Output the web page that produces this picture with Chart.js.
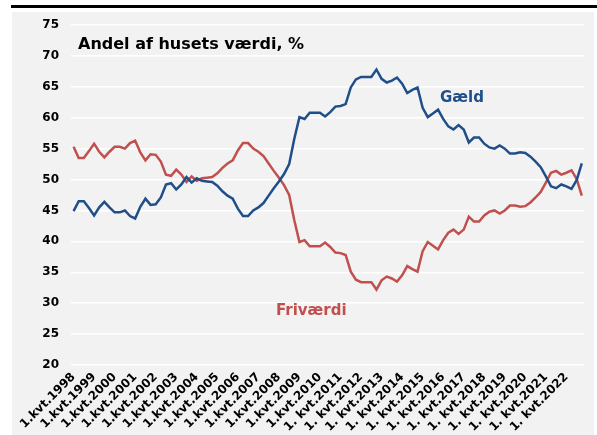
<!DOCTYPE html>
<html>
<head>
<meta charset="utf-8">
<title>Andel af husets værdi</title>
<script src="https://cdn.jsdelivr.net/npm/chart.js@4/dist/chart.umd.min.js"></script>
<style>
  html, body { margin: 0; padding: 0; background: #fff; }
  canvas { display: block; }
</style>
</head>
<body>
<canvas id="chart" width="597" height="435"></canvas>
<script>
// years on the axis (one label per 1st quarter)
const years = [1998, 1999, 2000, 2001, 2002, 2003, 2004, 2005, 2006, 2007, 2008, 2009, 2010,
  2011, 2012, 2013, 2014, 2015, 2016, 2017, 2018, 2019, 2020, 2021, 2022];
const quarters = [1, 2, 3, 4];

const tickLabels = ['1.kvt.1998', '1.kvt.1999', '1.kvt.2000', '1.kvt.2001', '1.kvt.2002',
  '1.kvt.2003', '1.kvt.2004', '1.kvt.2005', '1.kvt.2006', '1.kvt.2007', '1.kvt.2008',
  '1.kvt.2009', '1.kvt.2010', '1. kvt.2011', '1. kvt.2012', '1. kvt.2013', '1. kvt.2014',
  '1. kvt.2015', '1. kvt.2016', '1. kvt.2017', '1. kvt.2018', '1. kvt.2019', '1. kvt.2020',
  '1. kvt.2021', '1. kvt.2022'];

// Gæld, % of house value, quarterly 1998Q1 - 2022Q4
const gaeld = [
  44.9, 46.5, 46.5, 45.4, 44.2, 45.5, 46.4, 45.5, 44.7, 44.7,
  45.0, 44.1, 43.7, 45.6, 46.9, 45.9, 46.0, 47.1, 49.2, 49.4,
  48.4, 49.2, 50.4, 49.5, 50.2, 49.8, 49.7, 49.6, 49.0, 48.1,
  47.4, 46.9, 45.3, 44.1, 44.1, 45.0, 45.5, 46.2, 47.4, 48.6,
  49.7, 50.9, 52.5, 56.6, 60.1, 59.8, 60.8, 60.8, 60.8, 60.2,
  60.9, 61.8, 61.9, 62.2, 64.9, 66.2, 66.6, 66.6, 66.6, 67.8,
  66.3, 65.7, 66.0, 66.5, 65.5, 64.0, 64.5, 64.9, 61.6, 60.1,
  60.7, 61.3, 59.8, 58.6, 58.1, 58.8, 58.1, 56.0, 56.8, 56.8,
  55.8, 55.2, 55.0, 55.5, 55.0, 54.2, 54.2, 54.4, 54.3, 53.7,
  52.9, 52.0, 50.5, 48.9, 48.6, 49.2, 48.9, 48.5, 49.9, 52.6
];

// Friværdi, % of house value
const frivaerdi = [
  55.3, 53.5, 53.5, 54.6, 55.8, 54.5, 53.6, 54.5, 55.3, 55.3,
  55.0, 55.9, 56.3, 54.4, 53.1, 54.1, 54.0, 52.9, 50.8, 50.6,
  51.6, 50.8, 49.6, 50.5, 49.8, 50.2, 50.3, 50.4, 51.0, 51.9,
  52.6, 53.1, 54.7, 55.9, 55.9, 55.0, 54.5, 53.8, 52.6, 51.4,
  50.3, 49.1, 47.5, 43.4, 39.9, 40.2, 39.2, 39.2, 39.2, 39.8,
  39.1, 38.2, 38.1, 37.8, 35.1, 33.8, 33.4, 33.4, 33.4, 32.2,
  33.7, 34.3, 34.0, 33.5, 34.5, 36.0, 35.5, 35.1, 38.4, 39.9,
  39.3, 38.7, 40.2, 41.4, 41.9, 41.2, 41.9, 44.0, 43.2, 43.2,
  44.2, 44.8, 45.0, 44.5, 45.0, 45.8, 45.8, 45.6, 45.7, 46.3,
  47.1, 48.0, 49.5, 51.1, 51.4, 50.8, 51.1, 51.5, 50.1, 47.4
];

const categories = [];
years.forEach(y => quarters.forEach(q => categories.push(q + '.kvt.' + y)));

const BLUE = '#1f4e89';
const RED = '#c0504d';
const FONT = '"DejaVu Sans", Verdana, sans-serif';

// white page, black rule on top, grey panel behind the chart
const backdrop = {
  id: 'backdrop',
  beforeDraw(chart) {
    const ctx = chart.ctx;
    ctx.save();
    ctx.fillStyle = '#ffffff';
    ctx.fillRect(0, 0, chart.width, chart.height);
    ctx.fillStyle = '#000000';
    ctx.fillRect(11, 5, 586, 3);
    ctx.fillStyle = '#f2f2f2';
    ctx.fillRect(12, 12, 582, chart.height - 12);
    ctx.restore();
  }
};

// title and series names written inside the plot
const texts = {
  id: 'texts',
  afterDatasetsDraw(chart) {
    const ctx = chart.ctx;
    ctx.save();
    ctx.textAlign = 'left';
    ctx.textBaseline = 'alphabetic';
    ctx.fillStyle = '#000';
    ctx.font = 'bold 16px ' + FONT;
    ctx.fillText('Andel af husets værdi, %', 78, 49);
    ctx.font = 'bold 15px ' + FONT;
    ctx.fillStyle = BLUE;
    ctx.fillText('Gæld', 440, 102);
    ctx.fillStyle = RED;
    ctx.fillText('Friværdi', 276, 315);
    ctx.restore();
  }
};

new Chart(document.getElementById('chart'), {
  type: 'line',
  data: {
    labels: categories,
    datasets: [
      { label: 'Gæld', data: gaeld, borderColor: BLUE, borderWidth: 2.5, pointRadius: 0, tension: 0 },
      { label: 'Friværdi', data: frivaerdi, borderColor: RED, borderWidth: 2.5, pointRadius: 0, tension: 0 }
    ]
  },
  options: {
    responsive: false,
    animation: false,
    layout: { padding: { left: 0, right: 6, top: 25, bottom: 0 } },
    plugins: {
      legend: { display: false },
      tooltip: { enabled: false },
      title: { display: false }
    },
    scales: {
      x: {
        offset: true,
        grid: { display: false, drawTicks: false },
        border: { display: false },
        afterFit: (s) => { s.height = 70; },
        ticks: {
          autoSkip: false,
          minRotation: 45,
          maxRotation: 45,
          padding: 5,
          color: '#000',
          font: { family: FONT, size: 12, weight: 'bold' },
          callback: (value, index) => (index % 4 === 0 ? tickLabels[index / 4] : '')
        }
      },
      y: {
        min: 20,
        max: 75,
        afterFit: (s) => { s.width = 71; },
        grid: { color: '#ffffff', lineWidth: 1.5, drawTicks: false },
        border: { display: false },
        ticks: {
          stepSize: 5,
          padding: 12,
          color: '#000',
          font: { family: FONT, size: 12, weight: 'bold' }
        }
      }
    }
  },
  plugins: [backdrop, texts]
});
</script>
</body>
</html>
